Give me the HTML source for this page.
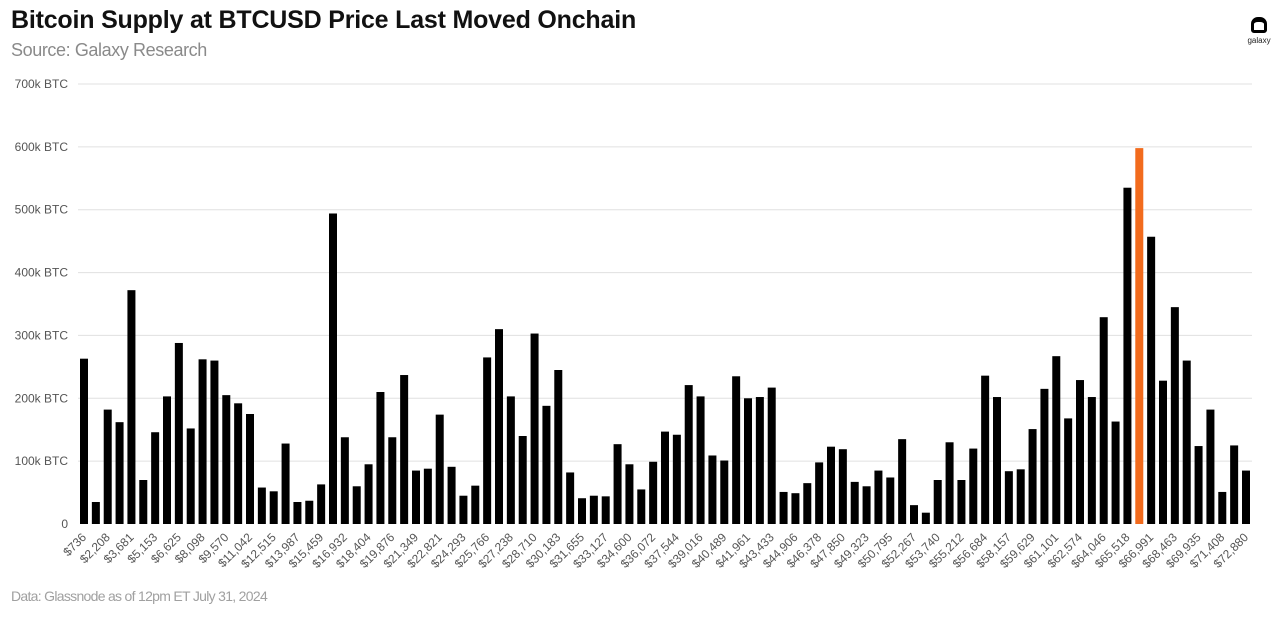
<!DOCTYPE html>
<html><head><meta charset="utf-8"><style>
body{margin:0;width:1280px;height:617px;background:#fff;font-family:"Liberation Sans",sans-serif;overflow:hidden;position:relative}
.t{position:absolute;left:11px;top:6px;font-size:25px;font-weight:bold;letter-spacing:-0.2px;color:#111}
.s{position:absolute;left:11px;top:40px;font-size:18px;color:#8a8a8a;letter-spacing:-0.4px}
.f{position:absolute;left:11px;top:588px;font-size:14px;color:#a0a0a0;letter-spacing:-0.7px}
</style></head><body>
<div class="t">Bitcoin Supply at BTCUSD Price Last Moved Onchain</div>
<div class="s">Source: Galaxy Research</div>
<div class="f">Data: Glassnode as of 12pm ET July 31, 2024</div>
<div style="position:absolute;left:1246px;top:17px;width:26px;text-align:center">
<div style="width:16px;height:16px;border:3px solid #000;border-radius:7px 7px 3px 3px;margin:0 auto;box-sizing:border-box;border-top-width:5px"></div>
<div style="font-size:8px;color:#222;margin-top:3px">galaxy</div></div>
<svg id="c" width="1280" height="617" style="position:absolute;left:0;top:0"></svg>
<script>
const values=[263,35,182,162,372,70,146,203,288,152,262,260,205,192,175,58,52,128,35,37,63,494,138,60,95,210,138,237,85,88,174,91,45,61,265,310,203,140,303,188,245,82,41,45,44,127,95,55,99,147,142,221,203,109,101,235,200,202,217,51,49,65,98,123,119,67,60,85,74,135,30,18,70,130,70,120,236,202,84,87,151,215,267,168,229,202,329,163,535,598,457,228,345,260,124,182,51,125,85];
const priceLabels=["$736","$2,208","$3,681","$5,153","$6,625","$8,098","$9,570","$11,042","$12,515","$13,987","$15,459","$16,932","$18,404","$19,876","$21,349","$22,821","$24,293","$25,766","$27,238","$28,710","$30,183","$31,655","$33,127","$34,600","$36,072","$37,544","$39,016","$40,489","$41,961","$43,433","$44,906","$46,378","$47,850","$49,323","$50,795","$52,267","$53,740","$55,212","$56,684","$58,157","$59,629","$61,101","$62,574","$64,046","$65,518","$66,991","$68,463","$69,935","$71,408","$72,880"];
const yTicks=[0,100,200,300,400,500,600,700];
const yTickLabels=["0","100k BTC","200k BTC","300k BTC","400k BTC","500k BTC","600k BTC","700k BTC"];
const highlightIndex=89;
const svg=document.getElementById('c'),NS='http://www.w3.org/2000/svg';
const y0=524,y1=84,x0=78,x1=1252;
const y=v=>y0-(v/700)*(y0-y1);
const step=(1246-84)/(values.length-1);
const x=i=>84+i*step;
function mk(t,a){const e=document.createElementNS(NS,t);for(const k in a)e.setAttribute(k,a[k]);svg.appendChild(e);return e;}
yTicks.forEach((v,i)=>{
 if(v>0){const g=mk('line',{x1:x0,x2:x1,y1:y(v),y2:y(v),stroke:'#e0e0e0','stroke-width':1});
 
 }
 const t=mk('text',{x:68,y:y(v)+4,'text-anchor':'end','font-size':12,fill:'#555','font-family':'Liberation Sans, sans-serif'});
 t.textContent=yTickLabels[i];
 
 
});
values.forEach((v,i)=>{
 const r=mk('rect',{x:x(i)-4,y:y(v),width:8,height:y0-y(v),fill:i===highlightIndex?'#f26b1d':'#000'});
 
 
});
priceLabels.forEach((l,j)=>{
 const cx=x(j*2),cy=532;
 const t=mk('text',{x:cx+3,y:cy+6,'text-anchor':'end','font-size':12,fill:'#555','font-family':'Liberation Sans, sans-serif',transform:`rotate(-45 ${cx+3} ${cy+6})`});
 t.textContent=l;
 
 
});
</script>
</body></html>
